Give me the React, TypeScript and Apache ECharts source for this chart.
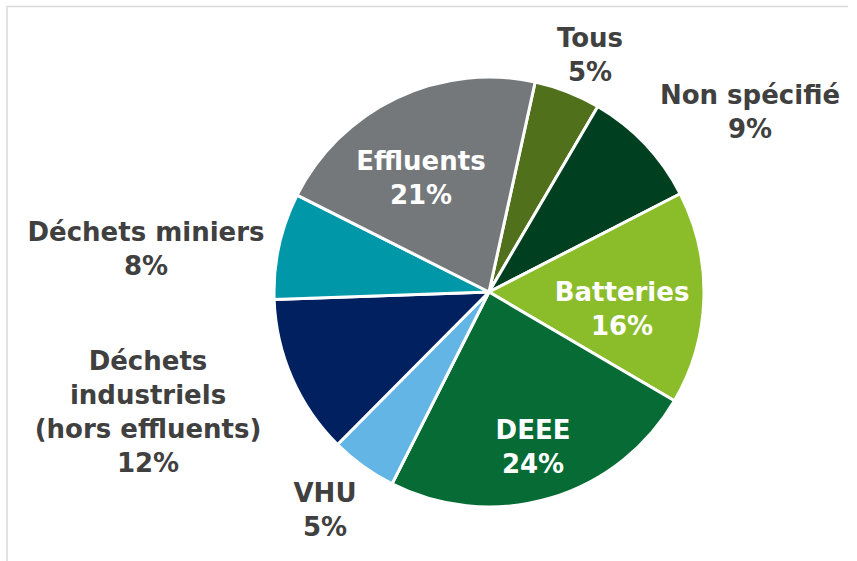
import React, { useEffect, useRef } from "react";
import * as echarts from "echarts";

const categories = [
  "Tous",
  "Non spécifié",
  "Batteries",
  "DEEE",
  "VHU",
  "Déchets\nindustriels\n(hors effluents)",
  "Déchets miniers",
  "Effluents",
];
const values = [5, 9, 16, 24, 5, 12, 8, 21];
const colors = ["#50701c", "#003f1f", "#8bbd2b", "#076b35", "#62b5e5", "#002060", "#0097a9", "#75787b"];
const insideLabel = [false, false, true, true, false, false, false, true];

// label block centres (layout, in px)
const labelPos: [number, number][] = [
  [590, 55],
  [750, 112],
  [622, 309],
  [533, 447],
  [325, 510],
  [148, 412],
  [146, 249],
  [421, 178],
];

export default function App() {
  const ref = useRef<HTMLDivElement>(null);
  useEffect(() => {
    const chart = echarts.init(ref.current!, undefined, { renderer: "svg" });
    chart.setOption({
      animation: false,
      backgroundColor: "#ffffff",
      graphic: [
        {
          type: "polyline",
          shape: { points: [[7, 561], [7, 6.5], [848, 6.5]] },
          style: { stroke: "#d9d9d9", lineWidth: 1.5, fill: null },
        },
      ],
      series: [
        {
          type: "pie",
          center: [489, 292],
          radius: [0, 215],
          startAngle: 77.6,
          clockwise: true,
          itemStyle: { borderColor: "#ffffff", borderWidth: 3 },
          labelLine: { show: false },
          label: {
            show: true,
            position: "inside",
            formatter: (p: any) => `${p.name}\n${p.value}%`,
            fontFamily: "DejaVu Sans",
            fontWeight: "bold",
            fontSize: 26,
            lineHeight: 34,
            align: "center",
          },
          labelLayout: (p: any) => {
            const [x, y] = labelPos[p.dataIndex];
            return { x, y, align: "center", verticalAlign: "middle" };
          },
          data: categories.map((name, i) => ({
            name,
            value: values[i],
            itemStyle: { color: colors[i] },
            label: { color: insideLabel[i] ? "#ffffff" : "#404040" },
          })),
        },
      ],
    });
    return () => chart.dispose();
  }, []);
  return (
    <div
      ref={ref}
      style={{ position: "fixed", left: 0, top: 0, width: 857, height: 561 }}
    />
  );
}
